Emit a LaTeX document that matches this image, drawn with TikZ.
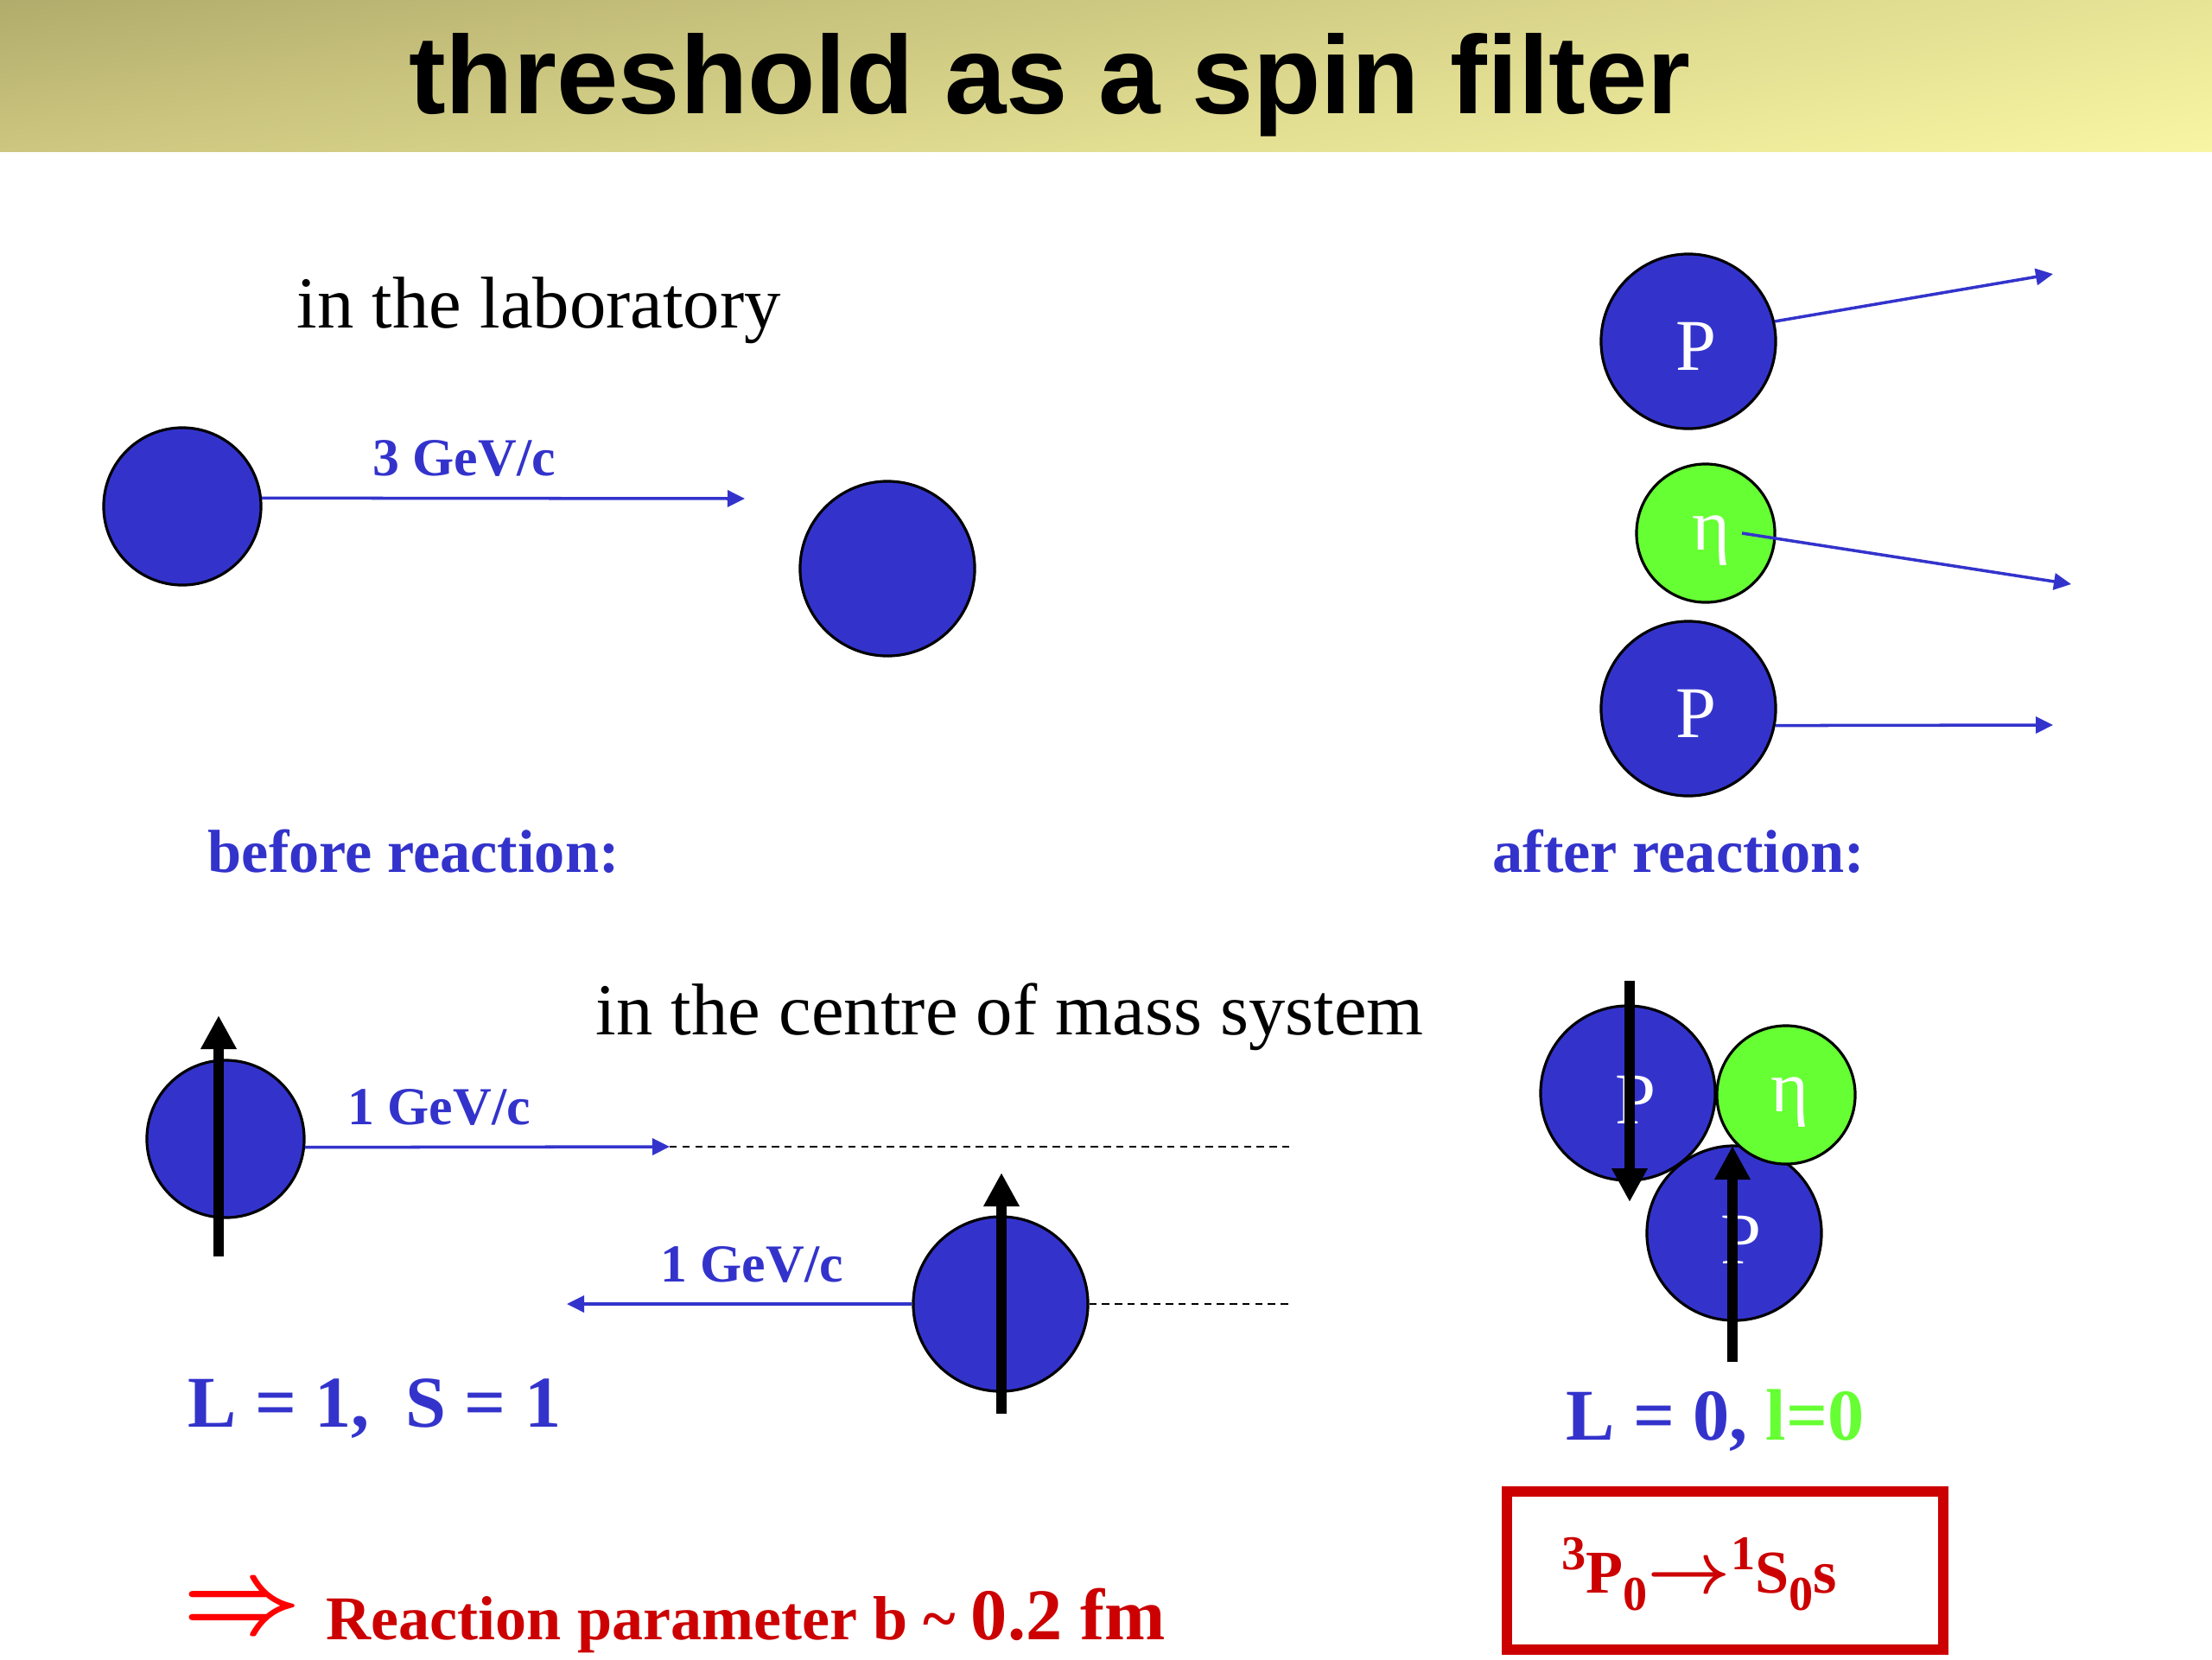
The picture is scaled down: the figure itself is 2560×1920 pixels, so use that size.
\documentclass[tikz,border=0pt]{standalone}
\usepackage{amsmath}
\usepackage{graphicx}
\usepackage{fontspec}
\setmainfont{Liberation Serif}
\newfontfamily\titlefont{Liberation Sans}
\usetikzlibrary{arrows.meta,shadings}
\definecolor{pblue}{HTML}{3333CC}
\definecolor{egreen}{HTML}{66FF33}
\definecolor{bred}{HTML}{CC0000}
\definecolor{arrred}{HTML}{FF0000}
\definecolor{tbUL}{RGB}{178,172,108}
\definecolor{tbUR}{RGB}{232,228,150}
\definecolor{tbLL}{RGB}{204,198,128}
\definecolor{tbLR}{RGB}{248,246,164}
\begin{document}
\begin{tikzpicture}[x=0.01cm,y=-0.01cm,
  txt/.style={inner sep=0pt,anchor=base west},
  ctxt/.style={inner sep=0pt,anchor=base},
  ball/.style={circle,draw=black,line width=0.9pt,fill=pblue,inner sep=0pt},
  bigball/.style={ball,minimum size=2.02cm},
  smallball/.style={ball,minimum size=1.82cm},
  etaball/.style={circle,draw=black,line width=0.9pt,fill=egreen,inner sep=0pt,minimum size=1.6cm},
  plbl/.style={text=white,inner sep=0pt,font=\fontsize{24}{24}\selectfont},
  mom/.style={draw=pblue,line width=1pt,-{Triangle[length=0.2cm,width=0.19cm]}},
  spin/.style={draw=black,line width=3.5pt,-{Triangle[length=0.39cm,width=0.39cm]}},
  dline/.style={draw=black,line width=0.8pt,dash pattern=on 2.4pt off 1.8pt},
  gev/.style={ctxt,text=pblue,font=\bfseries\fontsize{17.6}{18}\selectfont},
  head/.style={txt,font=\fontsize{24.1}{24}\selectfont},
  react/.style={txt,text=pblue,font=\bfseries\fontsize{20}{20}\selectfont},
  qnum/.style={txt,text=pblue,font=\bfseries\fontsize{24}{24}\selectfont},
  supsub/.style={font=\bfseries\fontsize{16}{16}\selectfont}
]
\useasboundingbox (0,0) rectangle (2560,1920);
% title bar
\shade[upper left=tbUL,upper right=tbUR,lower left=tbLL,lower right=tbLR]
  (0,0) rectangle (2560,175);
\node[ctxt,font=\titlefont\bfseries\fontsize{36.5}{36.5}\selectfont] (title) at (1215,131) {threshold as a spin filter};

% laboratory
\node[head] (labtxt) at (343,379) {in the laboratory};
\node[smallball] (lab1) at (211,586) {};
\node[bigball] (lab2) at (1027,658) {};
\coordinate (labend) at (862,577);
\draw[mom] (lab1.6) -- (labend);
\node[gev] (gev3) at (537,550) {3 GeV/c};

% after reaction (lab)
\node[bigball] (ptop) at (1954,395) {};
\node[etaball] (etaR) at (1974,617) {};
\node[bigball] (pbot) at (1954,820) {};
\node[plbl] (ptopl) at ([shift={(9,6)}]ptop.center) {P};
\node[plbl] (etaRl) at ([shift={(7,9)}]etaR.center) {η};
\node[plbl] (pbotl) at ([shift={(9,6)}]pbot.center) {P};
\coordinate (ptopend) at (2376,317);
\coordinate (etaend) at (2397,676);
\coordinate (pbotend) at (2376,839);
\draw[mom] (ptop.13) -- (ptopend);
\draw[mom] ([xshift=0.42cm]etaR.center) -- (etaend);
\draw[mom] (pbot.-11) -- (pbotend);

\node[react] (before) at (240,1009) {before reaction:};
\node[react] (after) at (1727,1009) {after reaction:};

% centre of mass
\node[head] (cmtxt) at (689,1197) {in the centre of mass system};
\node[smallball] (cm1) at (261,1318) {};
\coordinate (s1a) at (253,1454);
\coordinate (s1b) at (253,1175);
\draw[spin] (s1a) -- (s1b);
\coordinate (m1end) at (775,1327);
\coordinate (d1end) at (1494,1327);
\draw[mom] (cm1.-6) -- (m1end);
\draw[dline] (m1end) -- (d1end);
\node[gev] (gev1a) at (508,1301) {1 GeV/c};

\node[bigball] (cm2) at (1158,1509) {};
\coordinate (s2a) at (1159,1636);
\coordinate (s2b) at (1159,1357);
\draw[spin] (s2a) -- (s2b);
\coordinate (m2end) at (656,1509);
\coordinate (d2end) at (1494,1509);
\draw[mom] (cm2.west) -- (m2end);
\draw[dline] (cm2.east) -- (d2end);
\node[gev] (gev1b) at (870,1483) {1 GeV/c};

\node[qnum] (ls1) at (217,1651) {L = 1,\ \ S = 1};

% after reaction (cm)
\node[bigball] (pb) at (2007,1427) {};
\node[bigball] (pa) at (1884,1265) {};
\node[etaball] (etaC) at (2067,1267) {};
\node[plbl] (pal) at ([shift={(9,8)}]pa.center) {P};
\node[plbl] (pbl) at ([shift={(8,8)}]pb.center) {P};
\node[plbl] (etaCl) at ([shift={(5,9)}]etaC.center) {η};
\coordinate (s3a) at (1886,1135);
\coordinate (s3b) at (1886,1391);
\coordinate (s4a) at (2005,1576);
\coordinate (s4b) at (2005,1326);
\draw[spin] (s3a) -- (s3b);
\draw[spin] (s4a) -- (s4b);

\node[qnum] (ls0) at (1812,1666) {L = 0, \textcolor{egreen}{l=0}};

% box
\node[draw=bred,line width=0.12cm,minimum width=5.05cm,minimum height=1.83cm,inner sep=0pt] (box) at (1996.5,1817.5) {};
\node[txt,text=bred,font=\bfseries\fontsize{20}{20}\selectfont] (boxtxt) at (1807,1843)
  {\raisebox{7.6pt}{\fontsize{16}{16}\selectfont 3}P\raisebox{-5.7pt}{\fontsize{16}{16}\selectfont 0}\scalebox{1.15}{\fontsize{20.74}{21}\selectfont$\boldsymbol{\rightarrow}$}\raisebox{7.6pt}{\fontsize{16}{16}\selectfont 1}S\raisebox{-5.7pt}{\fontsize{16}{16}\selectfont 0}s};

% conclusion
\node[inner sep=0pt,text=arrred] (imp) at (280,1865) {\scalebox{1.64}{\fontsize{20.74}{21}\selectfont$\boldsymbol{\Rightarrow}$}};
\node[txt,text=bred,font=\bfseries\fontsize{20.5}{21}\selectfont] (concl) at (377,1897)
  {Reaction parameter b \textasciitilde{} {\fontsize{24}{24}\selectfont 0.2 fm}};
\end{tikzpicture}
\end{document}
